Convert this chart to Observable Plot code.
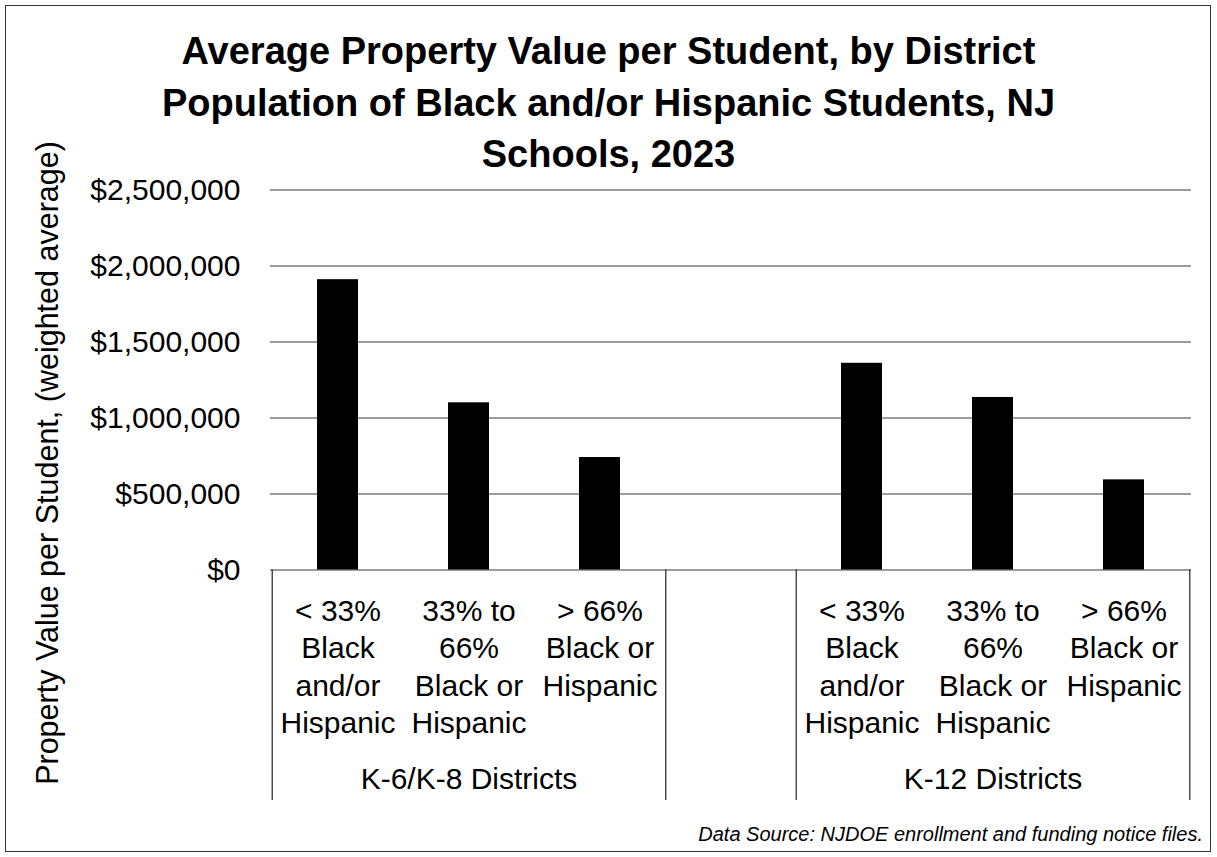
<!DOCTYPE html>
<html>
<head>
<meta charset="utf-8">
<script src="https://cdn.jsdelivr.net/npm/d3@7"></script>
<script src="https://cdn.jsdelivr.net/npm/@observablehq/plot@0.6"></script>
<style>
  html, body { margin: 0; padding: 0; background: #fff; }
  #wrap { position: relative; width: 1217px; height: 857px; overflow: hidden; font-family: "Liberation Sans", Arial, sans-serif; color: #000; }
  #frame { position: absolute; left: 5px; top: 5px; width: 1206px; height: 847px; border: 1px solid #333; box-sizing: border-box; }
  #chart { position: absolute; left: 0; top: 0; }
  #title { position: absolute; left: 0; top: 26px; width: 1217px; text-align: center; font-weight: bold; font-size: 38px; line-height: 51.5px; }
  #caption { position: absolute; right: 14px; top: 821px; font-style: italic; font-size: 20px; line-height: 26px; }
</style>
</head>
<body>
<div id="wrap">
  <div id="frame"></div>
  <div id="chart"></div>
  <div id="title"></div>
  <div id="caption"></div>
</div>
<script>
// ---- Data ----
const titleLines = [
  "Average Property Value per Student, by District",
  "Population of Black and/or Hispanic Students, NJ",
  "Schools, 2023"
];
const captionText = "Data Source: NJDOE enrollment and funding notice files.";
const yLabel = "Property Value per Student, (weighted average)";

const slots = ["k8_low", "k8_mid", "k8_high", "gap", "k12_low", "k12_mid", "k12_high"];
const slotLabels = [
  "< 33%\nBlack\nand/or\nHispanic",
  "33% to\n66%\nBlack or\nHispanic",
  "> 66%\nBlack or\nHispanic",
  "",
  "< 33%\nBlack\nand/or\nHispanic",
  "33% to\n66%\nBlack or\nHispanic",
  "> 66%\nBlack or\nHispanic"
];
const barSlots = ["k8_low", "k8_mid", "k8_high", "k12_low", "k12_mid", "k12_high"];
const values = [1910000, 1100000, 740000, 1360000, 1135000, 593000];
const groupNames = ["K-6/K-8 Districts", "K-12 Districts"];
const groupCenterSlots = ["k8_mid", "k12_mid"];
const groupStartSlots = ["k8_low", "k12_low"];
const groupEndSlots = ["k8_high", "k12_high"];
const yTicks = [0, 500000, 1000000, 1500000, 2000000, 2500000];

// ---- Tables built from arrays ----
const bars = barSlots.map((s, i) => ({slot: s, value: values[i]}));
const catLabels = slots.map((s, i) => ({slot: s, label: slotLabels[i]}));
const groups = groupNames.map((g, i) => ({slot: groupCenterSlots[i], name: g}));

// ---- Layout ----
const W = 1217, H = 857;
const mL = 270, mR = 26, mT = 189.5, mB = 287.5;
const step = (W - mL - mR) / slots.length;
const fontFamily = "'Liberation Sans', Arial, sans-serif";

document.getElementById("title").innerHTML = titleLines.map(t => `<div>${t}</div>`).join("");
document.getElementById("caption").textContent = captionText;

const fmt = d3.format(",");

const chart = Plot.plot({
  width: W,
  height: H,
  marginLeft: mL,
  marginRight: mR,
  marginTop: mT,
  marginBottom: mB,
  style: {fontFamily, fontSize: "30px", color: "#000", background: "transparent", overflow: "visible"},
  x: {type: "band", domain: slots, paddingInner: 0.69, paddingOuter: 0.345, axis: null},
  y: {domain: [0, 2500000], nice: false, axis: null},
  marks: [
    Plot.gridY(yTicks, {stroke: "#3a3a3a", strokeOpacity: 1, strokeWidth: 1}),
    Plot.barY(bars, {x: "slot", y: "value", fill: "#000"}),
    Plot.axisY(yTicks, {tickSize: 0, tickPadding: 30, tickFormat: d => "$" + fmt(d), fontSize: 30, label: null}),
    // category dividers
    Plot.ruleX(groupStartSlots, {x: d => d, y1: 0, y2: 0, insetBottom: -230.5, dx: -step / 2, stroke: "#222", strokeWidth: 1.2}),
    Plot.ruleX(groupEndSlots, {x: d => d, y1: 0, y2: 0, insetBottom: -230.5, dx: step / 2, stroke: "#222", strokeWidth: 1.2}),
    // category labels
    Plot.text(catLabels, {x: "slot", text: "label", frameAnchor: "bottom", lineAnchor: "top", dy: 24.7, lineHeight: 1.243, fontSize: 30, fill: "#000"}),
    Plot.text(groups, {x: "slot", text: "name", frameAnchor: "bottom", lineAnchor: "top", dy: 197.5, fontSize: 30, fill: "#000"}),
    // y label
    Plot.text([yLabel], {text: d => d, frameAnchor: "left", dx: -222, dy: 83, rotate: -90, textAnchor: "middle", lineAnchor: "middle", fontSize: 30.5, fill: "#000"})
  ]
});
document.getElementById("chart").appendChild(chart);
</script>
</body>
</html>
